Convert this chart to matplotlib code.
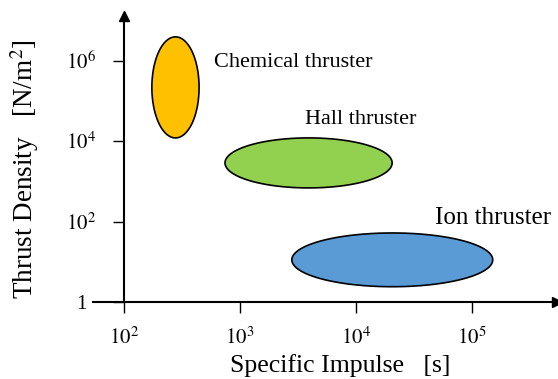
import numpy as np
import matplotlib.pyplot as plt

plt.rcParams['font.family'] = ['Liberation Serif', 'DejaVu Serif']
plt.rcParams['mathtext.fontset'] = 'stix'

# operating regions: specific impulse [s] and thrust density [N/m^2] ranges
thrusters = ["Chemical thruster", "Hall thruster", "Ion thruster"]
isp_low = [174, 743, 2800]
isp_high = [444, 20500, 151000]
density_low = [1.2e4, 686, 2.4]
density_high = [3.9e6, 1.2e4, 52]
colors = ["#FFC000", "#92D050", "#5B9BD5"]

label_x = [600, 3650, 48000]
label_y = [8.8e5, 3.4e4, 125]
label_size = [16, 16, 18]

fig = plt.figure(figsize=(5.58, 3.79), dpi=100)
ax = fig.add_axes([93 / 558, 1 - 302 / 379, 464 / 558, 286 / 379])
ax.set_xscale('log')
ax.set_yscale('log')
ax.set_xlim(10 ** 1.733, 10 ** 5.733)
ax.set_ylim(1, 10 ** 7.11)

t = np.linspace(0, 2 * np.pi, 300)
for i in range(len(thrusters)):
    lx0, lx1 = np.log10(isp_low[i]), np.log10(isp_high[i])
    ly0, ly1 = np.log10(density_low[i]), np.log10(density_high[i])
    cx, cy = (lx0 + lx1) / 2, (ly0 + ly1) / 2
    rx, ry = (lx1 - lx0) / 2, (ly1 - ly0) / 2
    ex = 10 ** (cx + rx * np.cos(t))
    ey = 10 ** (cy + ry * np.sin(t))
    ax.fill(ex, ey, facecolor=colors[i], edgecolor='black', linewidth=1.2, zorder=3)
    ax.text(label_x[i], label_y[i], thrusters[i], fontsize=label_size[i],
            ha='left', va='center')

for s in ['top', 'right']:
    ax.spines[s].set_visible(False)
ax.spines['left'].set_position(('data', 100))
ax.spines['left'].set_linewidth(1.5)
ax.spines['bottom'].set_linewidth(1.5)

ax.set_xticks([1e2, 1e3, 1e4, 1e5])
ax.set_xticklabels([r'$10^2$', r'$10^3$', r'$10^4$', r'$10^5$'])
ax.set_yticks([1, 1e2, 1e4, 1e6])
ax.set_yticklabels(['1', r'$10^2$', r'$10^4$', r'$10^6$'])
ax.minorticks_off()
ax.tick_params(axis='x', length=8, width=1, labelsize=15, pad=10)
ax.tick_params(axis='y', length=8, width=1, labelsize=15, pad=23)
for lab in ax.get_yticklabels():
    lab.set_horizontalalignment('center')

# arrow heads on the axes
ax.plot(1, 0, '>k', markersize=7, transform=ax.transAxes, clip_on=False)
ax.plot(100, 1, '^k', markersize=7, transform=ax.get_xaxis_transform(), clip_on=False)

fig.text(340 / 558, 1 - 366 / 379, 'Specific Impulse   [s]', fontsize=18.5,
         ha='center', va='center')
fig.text(25 / 558, 1 - 169 / 379, r'Thrust Density   [N/m$^2$]', fontsize=19.5,
         ha='center', va='center', rotation=90)

fig.savefig('out.png', dpi=100)
